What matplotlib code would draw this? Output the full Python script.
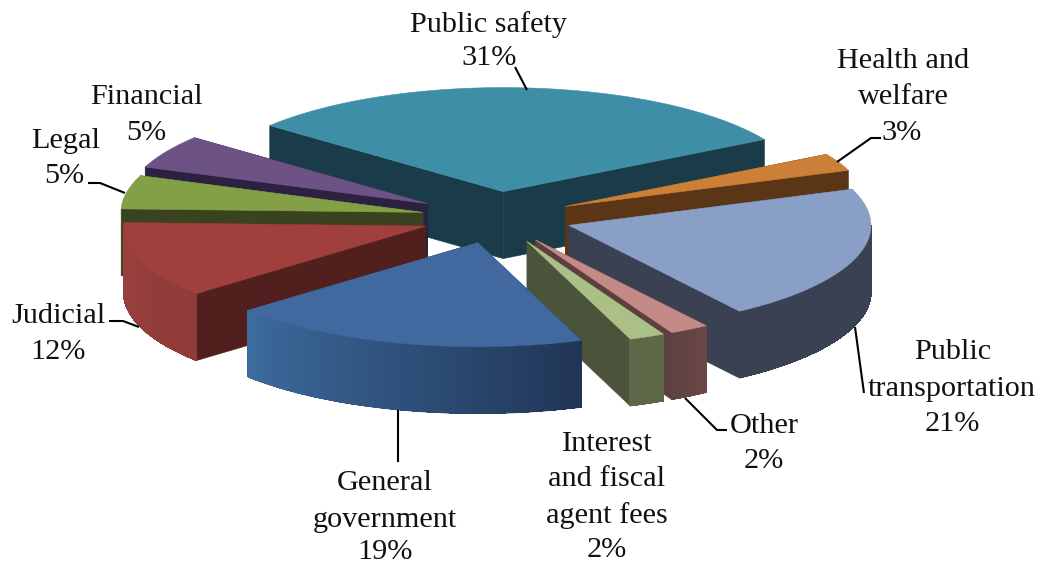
import numpy as np
import matplotlib
matplotlib.use("Agg")
import matplotlib.pyplot as plt
from matplotlib.collections import PolyCollection
from matplotlib.colors import to_rgb
from matplotlib.patches import Polygon

# ---- data (clockwise from the first slice) ----
names = ["Public safety", "Health and welfare", "Public transportation", "Other",
         "Interest and fiscal agent fees", "General government", "Judicial", "Legal", "Financial"]
values = [30.7, 2.7, 21.1, 2.1, 1.9, 19.3, 11.8, 5.2, 5.2]
label_lines = [["Public safety"], ["Health and", "welfare"], ["Public", "transportation"], ["Other"],
               ["Interest", "and fiscal", "agent fees"], ["General", "government"], ["Judicial"],
               ["Legal"], ["Financial"]]

# ---- styles ----
top_colors = ["#3e8ea8", "#cb7f37", "#8a9fc6", "#c48a85", "#abc086", "#41699f", "#a0403d", "#83a046", "#6c5285"]
cut_colors = ["#1a3c48", "#5a3516", "#3a4153", "#5c3f3e", "#4b533a", "#1f3557", "#521f1f", "#3a431f", "#2c2140"]
arc_colors = [("#1a3c48", "#1a3c48"), ("#5a3516", "#5a3516"), ("#3a4153", "#3a4153"), ("#6a4746", "#5e4241"),
              ("#5d6849", "#5d6849"), ("#213556", "#3c6b9e"), ("#8f3b39", "#9a413e"), ("#3a431f", "#3a431f"),
              ("#2c2140", "#2c2140")]
draw_order = [0, 1, 8, 7, 6, 2, 3, 4, 5]
explode = [0.25, 0.25, 0.25, 0.25, 0.25, 0.25, 0.25, 0.25, 0.265]

# ---- layout (pixels) ----
W, H = 1045, 563
CX, CY = 497.0, 217.5
A, B = 302.0, 104.0
DEPTH = 67.0
START_DEG = -50.6
FONT = "Liberation Serif"
FS = 21.8
TEXT_DY = 3
line_xy = [[(489, 22)], [(903, 58), (903, 94)], [(953, 349), (952, 386)], [(764, 423)],
           [(607, 441), (607, 476), (607, 513)], [(385, 480), (385, 517)], [(58, 313)], [(66, 138)], [(146, 94)]]
pct_xy = [(489, 55), (902, 130), (952, 421), (764, 458), (607, 547), (385, 549), (58, 349), (64, 173), (146, 130)]
leaders = [[(515, 67), (527, 90)], [(837, 162), (871, 138), (881, 138)], [(855, 327), (864, 393)],
           [(685, 398), (717, 430), (727, 430)], [(398, 410), (398, 462)],
           [(109, 321), (123, 321), (139, 327)], [(88, 183), (100, 183), (125, 193)]]

fig = plt.figure(figsize=(W / 100, H / 100), dpi=100, facecolor="white")
ax = fig.add_axes([0, 0, 1, 1])
ax.set_xlim(0, W)
ax.set_ylim(H, 0)
ax.axis("off")


def rim(apex, deg):
    t = np.radians(deg)
    return apex[0] + A * np.sin(t), apex[1] - B * np.cos(t)


fractions = np.array(values) / np.sum(values)
edges = START_DEG + np.concatenate([[0], np.cumsum(fractions)]) * 360

for z, i in enumerate(draw_order):
    t0, t1 = edges[i], edges[i + 1]
    mid = np.radians((t0 + t1) / 2)
    apex = (CX + explode[i] * A * np.sin(mid), CY - explode[i] * B * np.cos(mid))
    base = 2 + z * 4
    # flat cut faces
    for t in (t0, t1):
        p = rim(apex, t)
        quad = [apex, p, (p[0], p[1] + DEPTH), (apex[0], apex[1] + DEPTH)]
        ax.add_patch(Polygon(quad, closed=True, fc=cut_colors[i], ec=cut_colors[i], lw=0.4, zorder=base))
    # curved outer side (front half only): smooth silhouette plus shaded strips
    lo, hi = max(t0, 90), min(t1, 270)
    if hi > lo:
        ts = np.linspace(lo, hi, max(int(hi - lo), 4) + 1)
        c0, c1 = np.array(to_rgb(arc_colors[i][0])), np.array(to_rgb(arc_colors[i][1]))
        upper = [rim(apex, t) for t in ts]
        lower = [(x, y + DEPTH) for x, y in upper][::-1]
        ax.add_patch(Polygon(upper + lower, closed=True, fc=(c0 + c1) / 2, ec=(c0 + c1) / 2, lw=0.4, zorder=base + 1))
        quads, cols = [], []
        for a, b in zip(ts[:-1], ts[1:]):
            pa, pb = rim(apex, a), rim(apex, b)
            inset = 0.6
            quads.append([(pa[0], pa[1] + inset), (pb[0], pb[1] + inset),
                          (pb[0], pb[1] + DEPTH - inset), (pa[0], pa[1] + DEPTH - inset)])
            f = ((a + b) / 2 - lo) / (hi - lo)
            cols.append(c0 + (c1 - c0) * f)
        ax.add_collection(PolyCollection(quads, facecolors=cols, edgecolors=cols, linewidths=0.6,
                                         antialiaseds=False, zorder=base + 2))
    # top surface
    ts = np.linspace(t0, t1, max(int(t1 - t0), 3) + 1)
    pts = [apex] + [rim(apex, t) for t in ts]
    ax.add_patch(Polygon(pts, closed=True, fc=top_colors[i], ec=top_colors[i], lw=0.4, zorder=base + 3))

for seg in leaders:
    xs, ys = zip(*seg)
    ax.plot(xs, ys, color="black", lw=1.5, zorder=60, solid_capstyle="butt")

for i in range(len(values)):
    for txt, (x, y) in zip(label_lines[i], line_xy[i]):
        ax.text(x, y + TEXT_DY, txt, family=FONT, fontsize=FS, color="#111111", ha="center", va="center", zorder=70)
    ax.text(pct_xy[i][0], pct_xy[i][1] + TEXT_DY, f"{round(values[i])}%", family=FONT, fontsize=FS,
            color="#111111", ha="center", va="center", zorder=70)

fig.savefig("out.png", dpi=100, facecolor="white")
